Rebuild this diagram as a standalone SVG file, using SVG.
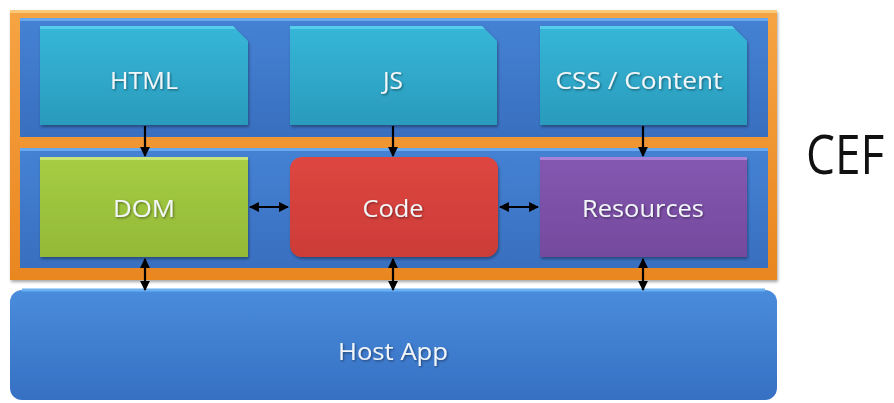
<svg xmlns="http://www.w3.org/2000/svg" width="894" height="403" viewBox="0 0 894 403">
<defs>
<style>
.lbl{font-family:"Open Sans","Liberation Sans",sans-serif;font-size:24px;fill:#F2F6F8;text-anchor:middle;filter:url(#ts)}
.conn{stroke:#000;stroke-width:2.2;fill:none}
</style>
<filter id="ts" x="-10%" y="-30%" width="120%" height="160%"><feDropShadow dx="1" dy="1.2" stdDeviation="0.8" flood-color="#000" flood-opacity="0.45"/></filter>
<filter id="bs" x="-5%" y="-10%" width="110%" height="125%"><feDropShadow dx="1" dy="2" stdDeviation="1.5" flood-color="#000" flood-opacity="0.35"/></filter>
<linearGradient id="gOr" x1="0" y1="0" x2="0" y2="1"><stop offset="0" stop-color="#F6A444"/><stop offset="1" stop-color="#E9861F"/></linearGradient>
<linearGradient id="gBl" x1="0" y1="0" x2="0" y2="1"><stop offset="0" stop-color="#4582D4"/><stop offset="1" stop-color="#396FBF"/></linearGradient>
<linearGradient id="gHost" x1="0" y1="0" x2="0" y2="1"><stop offset="0" stop-color="#4A8CDC"/><stop offset="1" stop-color="#3670C3"/></linearGradient>
<linearGradient id="gCy" x1="0" y1="0" x2="0" y2="1"><stop offset="0" stop-color="#36B6D8"/><stop offset="1" stop-color="#2A9BBC"/></linearGradient>
<linearGradient id="gGr" x1="0" y1="0" x2="0" y2="1"><stop offset="0" stop-color="#A6CD43"/><stop offset="1" stop-color="#93B937"/></linearGradient>
<linearGradient id="gRd" x1="0" y1="0" x2="0" y2="1"><stop offset="0" stop-color="#DE4640"/><stop offset="1" stop-color="#CC3C38"/></linearGradient>
<linearGradient id="gPu" x1="0" y1="0" x2="0" y2="1"><stop offset="0" stop-color="#8457B0"/><stop offset="1" stop-color="#744A9E"/></linearGradient>
<marker id="ah" viewBox="0 0 10 10" refX="9" refY="5" markerWidth="4.5" markerHeight="4.5" orient="auto-start-reverse"><path d="M0,0 L10,5 L0,10 Z" fill="#000"/></marker>
</defs>
<rect width="894" height="403" fill="#FFFFFF"/>

<g id="cef-frame">
<rect x="10" y="10" width="767" height="270" fill="url(#gOr)" filter="url(#bs)"/>
<rect x="10" y="10" width="767" height="3" fill="#F9C878"/>
</g>
<g id="panel-top">
<rect x="20" y="18" width="748" height="119" fill="url(#gBl)"/>
<rect x="20" y="18" width="748" height="3" fill="#68A8EE"/>
</g>
<g id="panel-mid">
<rect x="20" y="148" width="748" height="120" fill="url(#gBl)"/>
<rect x="20" y="148" width="748" height="3" fill="#68A8EE"/>
</g>

<g id="html">
<path d="M40,26 H233 L248,41 V125 H40 Z" fill="url(#gCy)" filter="url(#bs)"/>
<path d="M40,26 H233 L236,29 H40 Z" fill="#56CDEA"/>
<text class="lbl" x="144" y="89" textLength="68" lengthAdjust="spacingAndGlyphs">HTML</text>
</g>
<g id="js">
<path d="M290,26 H482 L497,41 V125 H290 Z" fill="url(#gCy)" filter="url(#bs)"/>
<path d="M290,26 H482 L485,29 H290 Z" fill="#56CDEA"/>
<text class="lbl" x="393" y="89" textLength="20" lengthAdjust="spacingAndGlyphs">JS</text>
</g>
<g id="css">
<path d="M540,26 H732 L747,41 V125 H540 Z" fill="url(#gCy)" filter="url(#bs)"/>
<path d="M540,26 H732 L735,29 H540 Z" fill="#56CDEA"/>
<text class="lbl" x="639" y="89" textLength="167" lengthAdjust="spacingAndGlyphs">CSS / Content</text>
</g>

<g id="dom">
<rect x="40" y="157" width="208" height="100" fill="url(#gGr)" filter="url(#bs)"/>
<rect x="40" y="157" width="208" height="3" fill="#C8E57A"/>
<text class="lbl" x="144" y="217" textLength="62" lengthAdjust="spacingAndGlyphs">DOM</text>
</g>
<g id="code">
<rect x="290" y="157" width="208" height="100" rx="12" fill="url(#gRd)" filter="url(#bs)"/>
<text class="lbl" x="393" y="217" textLength="61" lengthAdjust="spacingAndGlyphs">Code</text>
</g>
<g id="resources">
<rect x="540" y="157" width="207" height="100" fill="url(#gPu)" filter="url(#bs)"/>
<rect x="540" y="157" width="207" height="3" fill="#A982D8"/>
<text class="lbl" x="643" y="217" textLength="122" lengthAdjust="spacingAndGlyphs">Resources</text>
</g>

<g id="host-app">
<rect x="10" y="290" width="767" height="110" rx="12" fill="url(#gHost)"/>
<path d="M22,290 H765" stroke="#6AB0F2" stroke-width="3"/>
<text class="lbl" x="393" y="360" textLength="110" lengthAdjust="spacingAndGlyphs">Host App</text>
</g>

<g id="cef-label">
<text x="0" y="0" transform="translate(806,174) scale(1,1.2)" font-family="'Open Sans','Liberation Sans',sans-serif" font-size="46" fill="#111">CEF</text>
</g>

<g id="connectors">
<line class="conn" x1="145" y1="126" x2="145" y2="156" marker-end="url(#ah)"/>
<line class="conn" x1="393" y1="126" x2="393" y2="156" marker-end="url(#ah)"/>
<line class="conn" x1="643" y1="126" x2="643" y2="156" marker-end="url(#ah)"/>
<line class="conn" x1="250" y1="207" x2="288" y2="207" marker-start="url(#ah)" marker-end="url(#ah)"/>
<line class="conn" x1="500" y1="207" x2="538" y2="207" marker-start="url(#ah)" marker-end="url(#ah)"/>
<line class="conn" x1="145" y1="259" x2="145" y2="290" marker-start="url(#ah)" marker-end="url(#ah)"/>
<line class="conn" x1="393" y1="259" x2="393" y2="290" marker-start="url(#ah)" marker-end="url(#ah)"/>
<line class="conn" x1="643" y1="259" x2="643" y2="290" marker-start="url(#ah)" marker-end="url(#ah)"/>
</g>
</svg>
